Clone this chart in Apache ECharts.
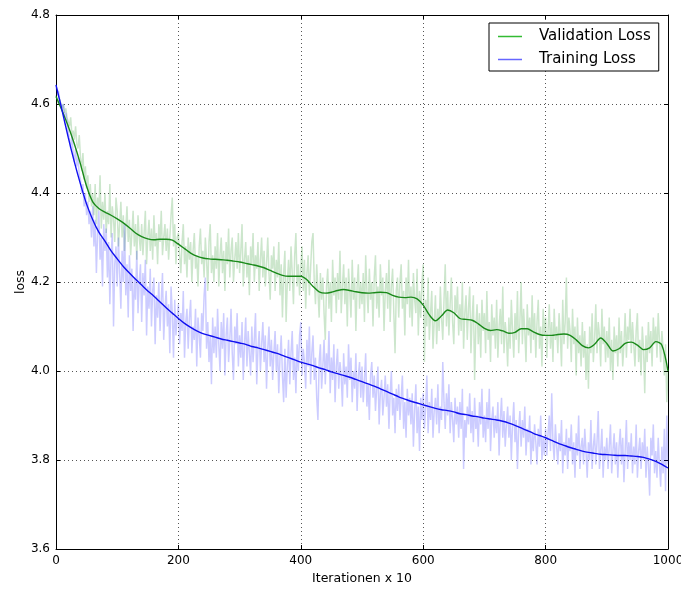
<!DOCTYPE html>
<html>
<head>
<meta charset="utf-8">
<script src="https://cdn.jsdelivr.net/npm/echarts@6/dist/echarts.min.js"></script>
<style>
html,body{margin:0;padding:0;background:#fff;}
#chart{width:681px;height:590px;}
</style>
</head>
<body>
<div id="chart"></div>
<script>
// Raw losses, sampled every 2 iterations (x 10), 0..1000
const rawStep = 2;
const validationRaw = [
  4.62,4.61,4.60,4.61,4.60,4.59,4.60,4.58,4.59,4.57,
  4.56,4.55,4.57,4.53,4.54,4.52,4.55,4.51,4.50,4.53,
  4.48,4.45,4.49,4.43,4.46,4.41,4.44,4.38,4.42,4.37,
  4.40,4.35,4.42,4.33,4.39,4.36,4.44,4.32,4.38,4.34,
  4.40,4.31,4.36,4.33,4.42,4.30,4.37,4.34,4.29,4.39,
  4.36,4.28,4.33,4.38,4.30,4.35,4.27,4.32,4.37,4.29,
  4.34,4.26,4.31,4.36,4.28,4.33,4.25,4.35,4.30,4.27,
  4.33,4.26,4.31,4.36,4.24,4.30,4.34,4.27,4.32,4.25,
  4.35,4.28,4.31,4.24,4.33,4.29,4.36,4.26,4.30,4.33,
  4.27,4.32,4.25,4.30,4.35,4.39,4.28,4.33,4.24,4.30,
  4.31,4.26,4.22,4.29,4.33,4.24,4.28,4.21,4.30,4.25,
  4.29,4.20,4.27,4.31,4.23,4.26,4.19,4.28,4.32,4.24,
  4.27,4.21,4.30,4.25,4.18,4.29,4.33,4.22,4.26,4.20,
  4.28,4.23,4.31,4.19,4.26,4.30,4.22,4.27,4.18,4.29,
  4.24,4.32,4.21,4.27,4.30,4.20,4.25,4.29,4.23,4.31,
  4.22,4.27,4.33,4.19,4.25,4.29,4.21,4.26,4.17,4.28,
  4.24,4.31,4.20,4.26,4.23,4.29,4.18,4.25,4.30,4.21,
  4.27,4.19,4.24,4.30,4.22,4.16,4.26,4.23,4.28,4.18,
  4.25,4.21,4.29,4.17,4.24,4.12,4.22,4.27,4.11,4.20,
  4.25,4.18,4.28,4.22,4.15,4.26,4.31,4.19,4.24,4.17,
  4.23,4.28,4.18,4.25,4.14,4.22,4.26,4.17,4.23,4.29,
  4.31,4.20,4.15,4.24,4.18,4.12,4.22,4.16,4.21,4.13,
  4.07,4.19,4.23,4.14,4.20,4.11,4.25,4.17,4.21,4.13,
  4.22,4.16,4.27,4.13,4.19,4.24,4.15,4.21,4.10,4.23,
  4.18,4.12,4.25,4.16,4.21,4.09,4.19,4.24,4.14,4.20,
  4.15,4.22,4.11,4.26,4.18,4.13,4.23,4.16,4.20,4.10,
  4.21,4.26,4.14,4.19,4.12,4.24,4.17,4.21,4.09,4.18,
  4.22,4.14,4.25,4.11,4.19,4.23,4.13,4.04,4.18,4.21,
  4.12,4.20,4.24,4.14,4.18,4.08,4.21,4.15,4.25,4.12,
  4.19,4.10,4.22,4.16,4.13,4.23,4.08,4.18,4.12,4.20,
  4.24,4.02,4.16,4.10,4.21,4.07,4.13,4.18,4.05,4.11,
  4.17,4.06,4.14,4.09,4.19,4.12,4.07,4.16,4.24,4.10,
  4.18,4.08,4.15,4.21,4.11,4.06,4.17,4.13,4.19,4.08,
  4.15,4.09,4.20,4.05,4.13,4.17,4.07,4.14,4.19,4.04,
  4.12,4.17,3.98,4.10,4.15,4.06,4.13,4.03,4.16,4.09,
  4.13,4.04,4.18,4.07,4.11,4.02,4.15,4.08,4.12,4.05,
  4.16,4.03,4.10,4.14,4.06,4.19,4.04,4.11,4.08,4.01,
  4.12,4.05,4.16,4.09,4.03,4.13,4.07,4.18,4.04,4.11,
  4.20,4.06,4.14,4.09,4.02,4.15,4.08,4.12,4.04,4.17,
  4.07,4.13,4.03,4.11,4.16,4.05,4.10,4.01,4.14,4.08,
  4.12,4.03,4.09,4.15,4.05,4.11,4.02,4.14,4.07,4.10,
  4.04,4.13,4.08,4.01,4.16,4.06,4.11,4.21,4.05,4.12,
  4.09,4.02,4.14,4.06,4.10,3.99,4.12,4.04,4.08,4.01,
  4.11,4.03,4.09,3.98,4.06,3.96,4.10,4.04,4.13,4.02,
  4.07,4.15,4.04,4.11,4.08,4.01,4.14,4.06,4.10,4.02,
  4.09,4.03,4.12,4.00,4.07,3.98,4.10,4.04,4.08,4.01,
  4.12,4.04,4.09,4.01,4.06,4.13,4.03,4.10,4.07,4.14,
  4.04,4.11,4.06,4.01,4.09,4.13,4.02,4.07,3.99,4.10,
  4.05,3.95,4.08,4.02,4.11,4.04,4.09,4.01,4.12,4.06,
  4.10,4.03,4.13,4.07,4.02,4.09,4.05,3.99,4.06,3.93,
  4.00
];
const trainingRaw = [
  4.64,4.62,4.63,4.61,4.60,4.59,4.60,4.57,4.58,4.56,
  4.54,4.52,4.50,4.53,4.49,4.47,4.50,4.46,4.48,4.44,
  4.43,4.40,4.42,4.37,4.40,4.35,4.38,4.33,4.36,4.30,
  4.37,4.28,4.34,4.22,4.31,4.36,4.25,4.30,4.19,4.33,
  4.27,4.32,4.21,4.29,4.15,4.26,4.31,4.10,4.24,4.28,
  4.19,4.30,4.22,4.14,4.27,4.20,4.33,4.17,4.24,4.12,
  4.26,4.18,4.23,4.09,4.21,4.16,4.27,4.13,4.20,4.24,
  4.11,4.22,4.17,4.25,4.08,4.19,4.14,4.23,4.10,4.18,
  4.21,4.06,4.17,4.12,4.20,4.09,4.16,4.22,4.07,4.14,
  4.18,4.10,4.15,4.04,4.19,4.13,4.03,4.16,4.08,4.12,
  4.15,4.06,4.13,4.09,4.18,4.03,4.11,4.14,4.05,4.12,
  4.16,4.04,4.10,4.07,4.14,4.01,4.12,4.08,4.03,4.13,
  4.09,4.17,4.21,4.05,4.11,4.02,4.08,3.97,4.12,4.04,
  4.10,4.03,4.14,4.06,4.00,4.11,4.05,4.13,3.99,4.08,
  4.12,4.02,4.07,4.14,4.04,3.98,4.10,4.06,4.13,4.01,
  4.08,4.03,4.11,3.98,4.06,4.12,4.01,4.09,4.04,3.99,
  4.10,4.02,4.07,4.13,3.97,4.05,4.09,4.00,4.06,4.11,
  4.02,4.08,3.96,4.05,4.10,4.01,4.07,3.98,4.04,4.09,
  4.00,4.06,3.95,4.03,4.08,3.99,3.93,4.05,3.94,4.01,
  4.07,3.97,4.04,4.09,3.98,4.03,3.95,4.06,4.00,4.08,
  4.11,3.99,4.05,4.02,3.96,4.07,4.01,4.10,3.97,4.04,
  4.08,3.98,4.03,3.94,3.89,4.02,4.06,3.96,4.01,4.07,
  3.97,4.04,4.00,4.09,3.95,4.03,3.98,4.06,3.93,4.01,
  4.05,3.96,4.02,3.99,3.92,4.04,3.97,4.01,3.94,4.06,
  3.98,4.03,3.93,4.00,3.96,4.04,3.91,3.99,4.02,3.94,
  4.01,3.93,3.98,4.04,3.92,3.97,3.89,3.99,4.02,3.94,
  3.99,3.91,3.96,4.01,3.88,3.95,3.98,3.90,3.94,3.99,
  3.92,3.97,3.87,3.95,4.00,3.90,3.94,3.86,3.96,3.91,
  3.97,3.89,3.94,3.99,3.87,3.93,3.85,3.96,3.90,3.94,
  3.88,3.95,3.83,3.91,3.97,3.86,3.92,3.82,3.94,3.89,
  3.95,3.87,3.92,3.99,3.86,3.93,3.89,3.96,3.85,3.91,
  3.94,3.88,3.97,3.86,3.92,3.89,4.02,3.93,3.87,3.95,
  3.90,3.97,3.86,3.93,3.89,3.84,3.94,3.88,3.92,3.85,
  3.93,3.87,3.96,3.78,3.89,3.85,3.92,3.88,3.95,3.86,
  3.91,3.84,3.94,3.87,3.90,3.83,3.93,3.88,3.96,3.85,
  3.90,3.84,3.93,3.87,3.96,3.82,3.89,3.92,3.85,3.90,
  3.86,3.93,3.81,3.89,3.94,3.85,3.91,3.83,3.88,3.92,
  3.85,3.90,3.80,3.88,3.93,3.84,3.89,3.78,3.87,3.91,
  3.83,3.89,3.85,3.92,3.81,3.87,3.84,3.90,3.79,3.86,
  3.82,3.88,3.84,3.79,3.87,3.83,3.90,3.80,3.85,3.81,
  3.87,3.81,3.86,3.90,3.82,3.95,3.84,3.80,3.88,3.83,
  3.79,3.86,3.82,3.89,3.77,3.84,3.81,3.87,3.78,3.85,
  3.82,3.88,3.79,3.84,3.76,3.86,3.81,3.90,3.78,3.83,
  3.85,3.79,3.87,3.82,3.76,3.84,3.80,3.89,3.78,3.83,
  3.86,3.79,3.84,3.91,3.78,3.82,3.87,3.76,3.83,3.80,
  3.85,3.78,3.83,3.88,3.77,3.82,3.86,3.79,3.84,3.76,
  3.83,3.87,3.79,3.85,3.75,3.82,3.89,3.78,3.84,3.80,
  3.86,3.77,3.83,3.79,3.88,3.76,3.82,3.85,3.78,3.84,
  3.80,3.87,3.76,3.83,3.79,3.72,3.85,3.81,3.88,3.77,
  3.82,3.76,3.85,3.79,3.74,3.83,3.77,3.87,3.73,3.90,
  3.79
];
// Smoothed losses, sampled every 10 iterations, 0..1000
const smoothStep = 10;
const validationSmooth = [
  4.617,4.585,4.550,4.510,4.465,4.415,4.380,4.365,4.357,4.350,
  4.342,4.333,4.322,4.310,4.302,4.297,4.295,4.296,4.296,4.294,
  4.285,4.275,4.265,4.258,4.254,4.252,4.251,4.250,4.249,4.247,
  4.245,4.242,4.239,4.236,4.232,4.226,4.220,4.215,4.213,4.213,
  4.213,4.205,4.190,4.178,4.175,4.177,4.181,4.183,4.181,4.178,
  4.176,4.175,4.176,4.177,4.176,4.170,4.166,4.165,4.166,4.162,
  4.148,4.126,4.113,4.124,4.137,4.131,4.118,4.116,4.114,4.106,
  4.096,4.091,4.093,4.090,4.085,4.087,4.095,4.095,4.088,4.082,
  4.080,4.080,4.082,4.083,4.080,4.070,4.057,4.052,4.060,4.074,
  4.062,4.045,4.050,4.062,4.065,4.058,4.048,4.052,4.066,4.058,
  4.000
];
const trainingSmooth = [
  4.643,4.585,4.525,4.470,4.420,4.375,4.340,4.312,4.292,4.270,
  4.252,4.235,4.220,4.206,4.193,4.180,4.168,4.155,4.142,4.130,
  4.118,4.107,4.098,4.090,4.084,4.080,4.076,4.072,4.069,4.066,
  4.063,4.060,4.055,4.052,4.048,4.044,4.040,4.035,4.030,4.025,
  4.020,4.016,4.012,4.007,4.003,3.998,3.994,3.990,3.986,3.981,
  3.976,3.971,3.966,3.960,3.954,3.948,3.942,3.937,3.932,3.928,
  3.924,3.920,3.916,3.913,3.911,3.908,3.904,3.902,3.899,3.897,
  3.894,3.892,3.890,3.887,3.883,3.878,3.872,3.866,3.860,3.855,
  3.850,3.844,3.838,3.833,3.828,3.824,3.820,3.817,3.815,3.813,
  3.812,3.811,3.810,3.810,3.809,3.808,3.806,3.802,3.797,3.790,
  3.782
];
const xTicks = [0, 200, 400, 600, 800, 1000];
const yTicks = [3.6, 3.8, 4.0, 4.2, 4.4, 4.6, 4.8];
const xTitle = 'Iterationen x 10';
const yTitle = 'loss';
const legendNames = ['Validation Loss', 'Training Loss'];

const pairs = (arr, step) => arr.map((v, i) => [i * step, v]);

const FONT = 'DejaVu Sans';
const chart = echarts.init(document.getElementById('chart'), null, {renderer: 'canvas'});

const tickCommon = {inside: true, length: 4, lineStyle: {color: '#000', width: 1}};
const gridLine = {show: true, lineStyle: {color: '#555', type: [1, 3], width: 1}};

chart.setOption({
  animation: false,
  backgroundColor: '#fff',
  grid: {left: 56, right: 13, top: 15, bottom: 41, containLabel: false, outerBoundsMode: 'none'},
  legend: {
    left: 489, top: 23, orient: 'vertical',
    backgroundColor: '#fff', borderColor: '#000', borderWidth: 1, borderRadius: 0,
    padding: [6, 8, 4, 9], itemGap: 8, itemWidth: 24, itemHeight: 1.5, icon: 'rect',
    textStyle: {fontFamily: FONT, fontSize: 15, color: '#000', padding: [0, 0, 0, 12]},
    data: [
      {name: legendNames[0], itemStyle: {color: '#33bb33'}},
      {name: legendNames[1], itemStyle: {color: '#6666ff'}}
    ]
  },
  xAxis: [{
    type: 'value', min: xTicks[0], max: xTicks[xTicks.length - 1], interval: 200,
    name: xTitle, nameLocation: 'middle', nameGap: 23, nameMoveOverlap: false,
    nameTextStyle: {fontFamily: FONT, fontSize: 12.5, color: '#000'},
    axisLine: {show: true, onZero: false, lineStyle: {color: '#000', width: 1}},
    axisTick: tickCommon,
    axisLabel: {fontFamily: FONT, fontSize: 12, color: '#000', margin: 6,
      formatter: v => String(v)},
    splitLine: gridLine
  }, {
    type: 'value', position: 'top', min: 0, max: 1000, interval: 200,
    axisLine: {show: true, onZero: false, lineStyle: {color: '#000', width: 1}},
    axisTick: tickCommon, axisLabel: {show: false}, splitLine: {show: false}
  }],
  yAxis: [{
    type: 'value', min: yTicks[0], max: yTicks[yTicks.length - 1], interval: 0.2,
    name: yTitle, nameLocation: 'middle', nameGap: 29, nameMoveOverlap: false,
    nameTextStyle: {fontFamily: FONT, fontSize: 12.5, color: '#000'},
    axisLine: {show: true, onZero: false, lineStyle: {color: '#000', width: 1}},
    axisTick: tickCommon,
    axisLabel: {fontFamily: FONT, fontSize: 12, color: '#000', margin: 6,
      formatter: v => v.toFixed(1)},
    splitLine: gridLine
  }, {
    type: 'value', position: 'right', min: 3.6, max: 4.8, interval: 0.2,
    axisLine: {show: true, onZero: false, lineStyle: {color: '#000', width: 1}},
    axisTick: tickCommon, axisLabel: {show: false}, splitLine: {show: false}
  }],
  series: [
    {name: 'validation raw', type: 'line', data: pairs(validationRaw, rawStep), showSymbol: false,
     lineStyle: {color: '#008000', opacity: 0.2, width: 1.5}, itemStyle: {color: '#008000'}, z: 1},
    {name: 'training raw', type: 'line', data: pairs(trainingRaw, rawStep), showSymbol: false,
     lineStyle: {color: '#0000ff', opacity: 0.2, width: 1.5}, itemStyle: {color: '#0000ff'}, z: 1},
    {name: legendNames[0], type: 'line', data: pairs(validationSmooth, smoothStep), showSymbol: false,
     smooth: 0.3, lineStyle: {color: '#1a8a1a', width: 1.4}, itemStyle: {color: '#1a8a1a'}, z: 3},
    {name: legendNames[1], type: 'line', data: pairs(trainingSmooth, smoothStep), showSymbol: false,
     smooth: 0.3, lineStyle: {color: '#1010f0', width: 1.4}, itemStyle: {color: '#1010f0'}, z: 3}
  ]
});
</script>
</body>
</html>
